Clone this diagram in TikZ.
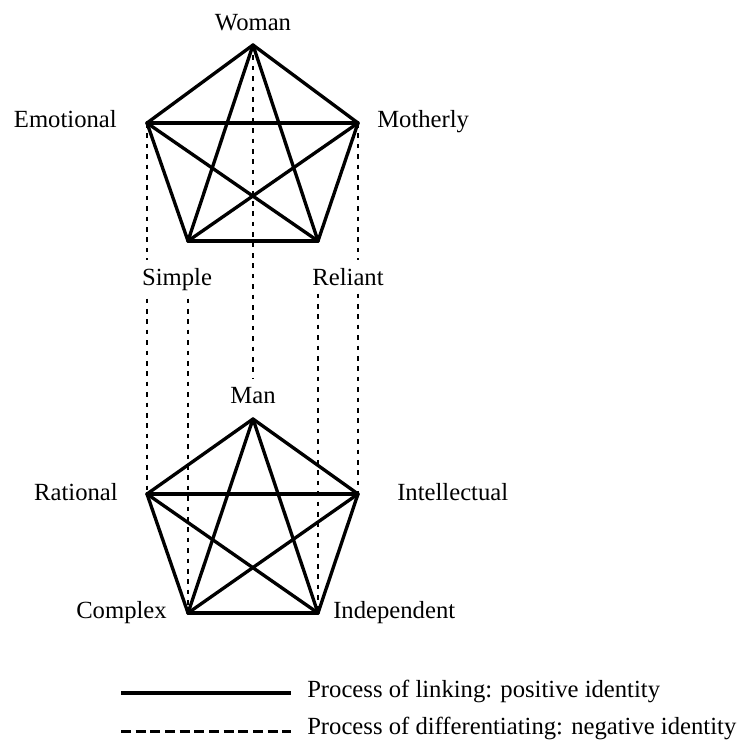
\documentclass[tikz,border=0pt]{standalone}
\usepackage{fontspec}
\setmainfont{Liberation Serif}
\begin{document}
\begin{tikzpicture}[x=0.75pt,y=-0.75pt,
  every node/.style={font=\fontsize{18.5}{22}\selectfont, inner sep=0pt},
  link/.style={line width=2.5pt, line cap=round, line join=round},
  differ/.style={line width=1pt, dash pattern=on 3.5pt off 4.3pt},
  gaplabel/.style={inner sep=6pt},
  keysolid/.style={line width=2.6pt},
  keydash/.style={line width=1.7pt, dash pattern=on 7.5pt off 3.5pt}]
\useasboundingbox (0,0) rectangle (742,739);

% vertices of the upper pentagon
\coordinate (W) at (253,45);
\coordinate (E) at (147,123);
\coordinate (M) at (358,123);
\coordinate (S) at (188,241);
\coordinate (R) at (318,241);
% vertices of the lower pentagon
\coordinate (Mn) at (253,419);
\coordinate (Ra) at (147,494);
\coordinate (In) at (358,494);
\coordinate (Co) at (188,613);
\coordinate (Id) at (318,613);

% labels
\node[anchor=base] (lW) at (253,30) {Woman};
\node[anchor=base east] (lE) at (117,127.5) {Emotional};
\node[anchor=base west] (lM) at (377,127.5) {Motherly};
\node[gaplabel, anchor=base] (lS) at (177,285) {Simple};
\node[gaplabel, anchor=base] (lR) at (348,285) {Reliant};
\node[gaplabel, anchor=base] (lMn) at (253,403) {Man};
\node[anchor=base east] (lRa) at (118,500) {Rational};
\node[anchor=base west] (lIn) at (397,500) {Intellectual};
\node[anchor=base east] (lCo) at (167,618) {Complex};
\node[anchor=base west] (lId) at (333,618) {Independent};

% differentiating links between the two figures
\draw[differ] (E) -- (E |- lS.north);
\draw[differ] (E |- lS.south) -- (Ra);
\draw[differ] (M) -- (M |- lR.north);
\draw[differ] (M |- lR.south) -- (In);
\draw[differ] (S |- lS.south) -- (Co);
\draw[differ] (R |- lR.south) -- (Id);
\draw[differ] (W) -- (lMn.north);

% linking within each figure
\foreach \a/\b in {W/E,W/M,W/S,W/R,E/M,E/S,E/R,M/S,M/R,S/R}
  \draw[link] (\a) -- (\b);
\foreach \a/\b in {Mn/Ra,Mn/In,Mn/Co,Mn/Id,Ra/In,Ra/Co,Ra/Id,In/Co,In/Id,Co/Id}
  \draw[link] (\a) -- (\b);

% key
\coordinate (k1a) at (121,693);
\coordinate (k1b) at (291,693);
\coordinate (k2a) at (121,731.5);
\coordinate (k2b) at (291,731.5);
\draw[keysolid] (k1a) -- (k1b);
\draw[keydash] (k2a) -- (k2b);
\node[anchor=base west] (t1) at (307,697) {Process of linking: positive identity};
\node[anchor=base west] (t2) at (307,734) {Process of differentiating: negative identity};
\end{tikzpicture}
\end{document}
